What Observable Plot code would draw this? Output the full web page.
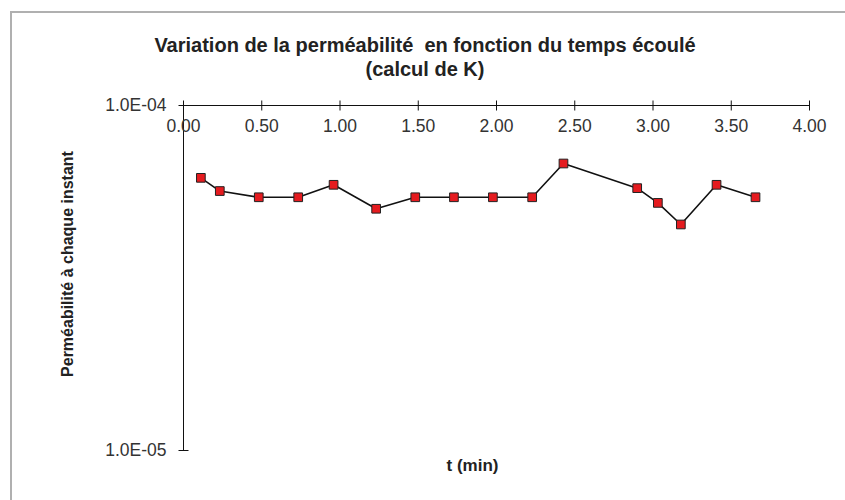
<!DOCTYPE html>
<html>
<head>
<meta charset="utf-8">
<script src="https://cdn.jsdelivr.net/npm/d3@7"></script>
<script src="https://cdn.jsdelivr.net/npm/@observablehq/plot@0.6"></script>
<style>
  html, body { margin: 0; padding: 0; overflow: hidden; background: #fff; }
  #wrap { position: relative; width: 845px; height: 500px; overflow: hidden; font-family: "Liberation Sans", Arial, sans-serif; }
  #frame { position: absolute; left: 10px; top: 11px; width: 900px; height: 600px; border: 2px solid #b0b0b0; box-sizing: border-box; }
  #title { position: absolute; left: 0; top: 33px; width: 850px; text-align: center; font-weight: bold; font-size: 20px; line-height: 24px; color: #222; }
  #chart { position: absolute; left: 0; top: 0; }
</style>
</head>
<body>
<div id="wrap">
  <div id="frame"></div>
  <div id="chart"></div>
  <div id="title">Variation de la perméabilité&nbsp; en fonction du temps écoulé<br>(calcul de K)</div>
</div>
<script>
// Data
const times = [0.111, 0.232, 0.481, 0.733, 0.959, 1.231, 1.481, 1.728, 1.977, 2.228, 2.428, 2.899, 3.031, 3.178, 3.406, 3.655];
const permeability = [6.17e-5, 5.65e-5, 5.42e-5, 5.42e-5, 5.89e-5, 5.02e-5, 5.42e-5, 5.42e-5, 5.42e-5, 5.42e-5, 6.79e-5, 5.76e-5, 5.22e-5, 4.52e-5, 5.89e-5, 5.42e-5];
const xTicks = [0, 0.5, 1, 1.5, 2, 2.5, 3, 3.5, 4];
const yTicks = [1e-5, 1e-4];
const xLabel = "t (min)";
const yLabel = "Perméabilité à chaque instant";

const data = times.map((t, i) => ({t, k: permeability[i]}));
const yTop = d3.max(yTicks);

const fmtE = d => {
  const [m, e] = d.toExponential(1).split("e");
  const n = +e;
  return m + "E" + (n < 0 ? "-" : "+") + String(Math.abs(n)).padStart(2, "0");
};

const vTick = {draw(ctx, size) { const r = Math.sqrt(size / Math.PI); ctx.moveTo(0, -r); ctx.lineTo(0, r); }};
const hTick = {draw(ctx, size) { const r = Math.sqrt(size / Math.PI); ctx.moveTo(-r, 0); ctx.lineTo(r, 0); }};

const chart = Plot.plot({
  width: 845,
  height: 500,
  marginLeft: 183,
  marginRight: 36,
  marginTop: 105,
  marginBottom: 50,
  style: {fontFamily: "'Liberation Sans', Arial, sans-serif", background: "transparent", overflow: "visible"},
  x: {domain: [0, 4], axis: null},
  y: {type: "log", domain: [1e-5, 1e-4], axis: null},
  marks: [
    Plot.ruleY([yTop], {stroke: "#111", strokeWidth: 1}),
    Plot.ruleX([0], {stroke: "#111", strokeWidth: 1}),
    Plot.dot(xTicks, {x: d => d, y: () => yTop, symbol: vTick, r: 5, stroke: "#111", strokeWidth: 1}),
    Plot.dot(yTicks, {x: () => 0, y: d => d, symbol: hTick, r: 5, stroke: "#111", strokeWidth: 1}),
    Plot.text(xTicks, {x: d => d, y: () => yTop, text: d => d.toFixed(2), dy: 21, fontSize: 17.5, fill: "#333"}),
    Plot.text(yTicks, {x: () => 0, y: d => d, text: fmtE, dx: -17, textAnchor: "end", fontSize: 17.5, fill: "#333"}),
    Plot.line(data, {x: "t", y: "k", stroke: "#111", strokeWidth: 1.6}),
    Plot.dot(data, {x: "t", y: "k", symbol: "square", r: 4.9, fill: "#e51b1f", stroke: "#222", strokeWidth: 1}),
    Plot.text([yLabel], {frameAnchor: "left", text: d => d, rotate: -90, textAnchor: "middle", dx: -116, dy: -14, fontSize: 16, fontWeight: "bold", fill: "#222"}),
    Plot.text([xLabel], {frameAnchor: "bottom", text: d => d, dx: -24, dy: 20, fontSize: 17, fontWeight: "bold", fill: "#222"})
  ]
});
document.getElementById("chart").appendChild(chart);
</script>
</body>
</html>
